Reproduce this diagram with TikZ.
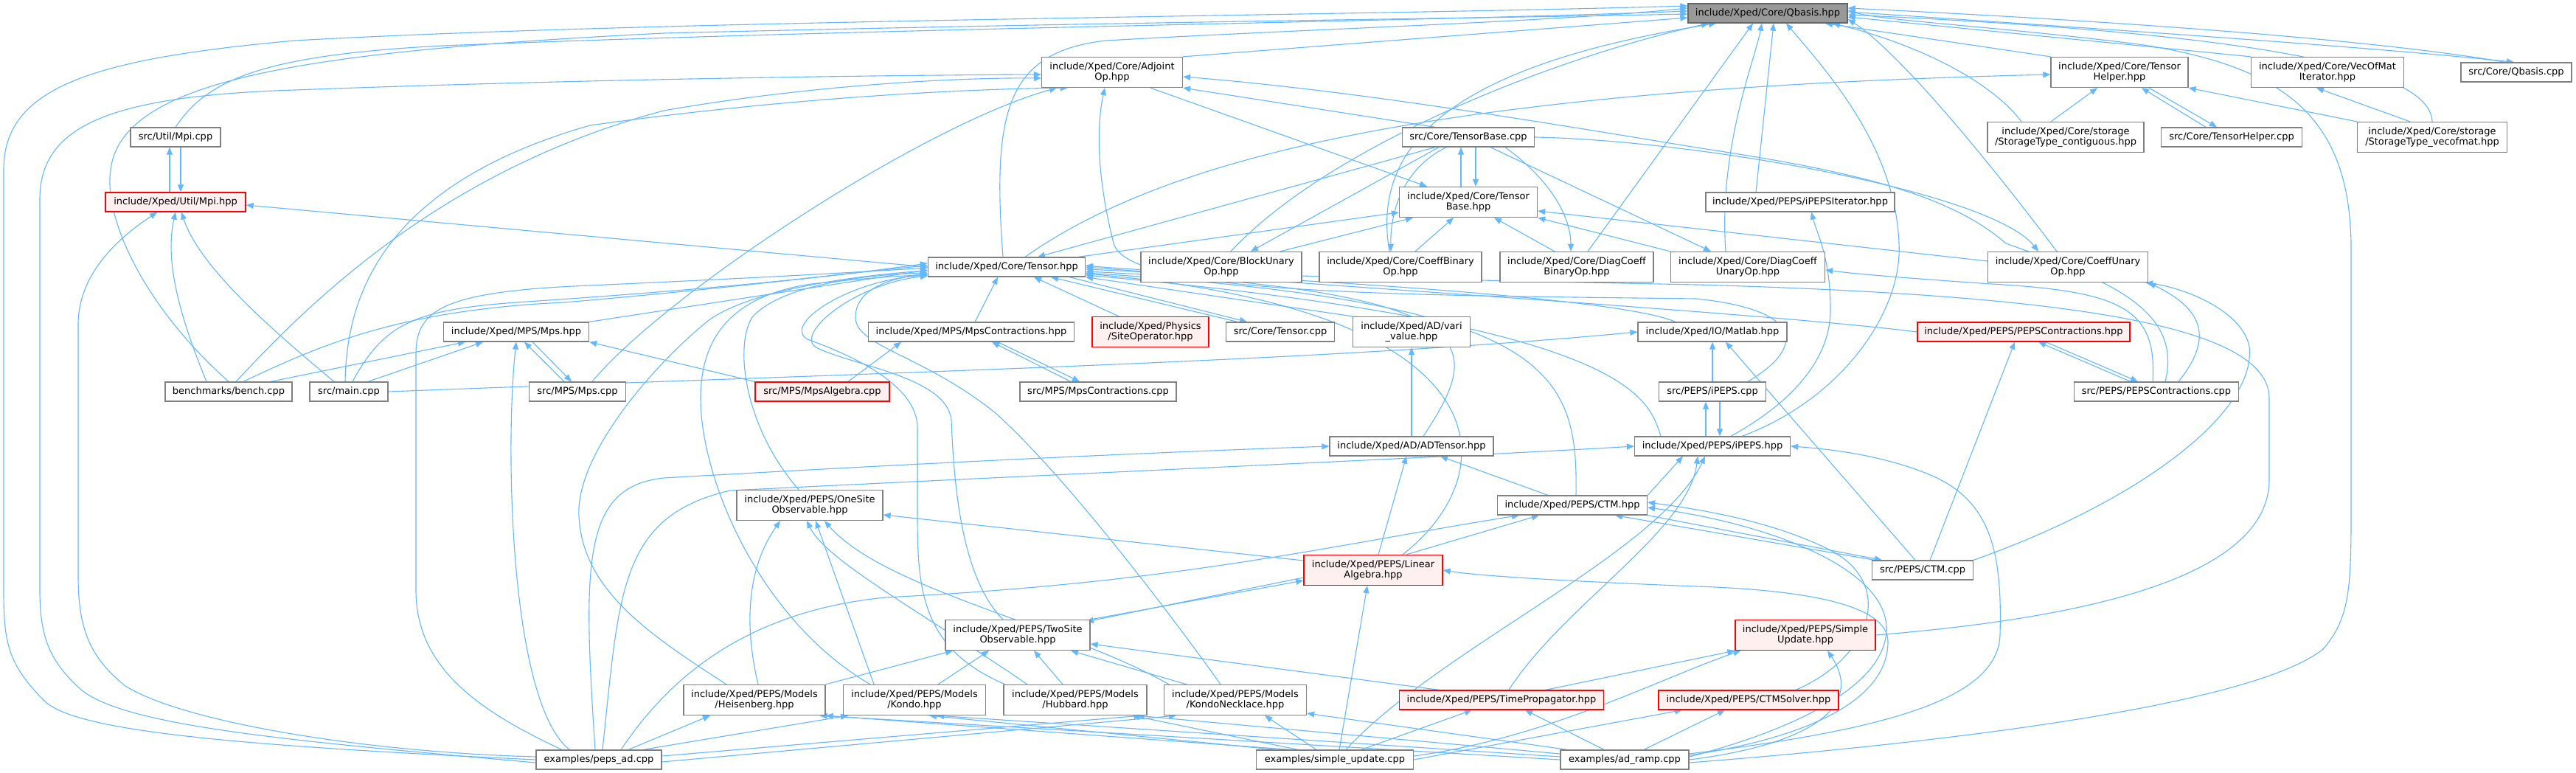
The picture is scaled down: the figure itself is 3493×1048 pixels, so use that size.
\documentclass[tikz,border=0pt]{standalone}
\usepackage{fontspec}
\setmainfont{DejaVu Sans}
\usepackage{xcolor}
\usetikzlibrary{arrows.meta, positioning, backgrounds}
\definecolor{edgeblue}{HTML}{63B8FF}
\definecolor{framegray}{HTML}{808080}
\definecolor{rootfill}{HTML}{999999}
\definecolor{rootframe}{HTML}{666666}
\definecolor{markred}{HTML}{FF0000}
\definecolor{markfill}{HTML}{FFF0F0}

\begin{document}
\begin{tikzpicture}[x=1pt, y=-1pt, >={Triangle[length=10pt,width=8pt]}]
    \tikzstyle{file} = [rectangle, draw=framegray, fill=white, line width=1.3pt, inner xsep=3pt, inner ysep=1pt, minimum height=26pt, align=center, font=\fontsize{13}{14.5}\selectfont]
    \tikzstyle{twoline} = [minimum height=41pt]
    \tikzstyle{rootfile} = [file, fill=rootfill, draw=rootframe]
    \tikzstyle{redfile} = [file, draw=markred, fill=markfill]
    \tikzstyle{inc} = [draw=edgeblue, line width=1.1pt, ->]

    \useasboundingbox (0,0) rectangle (3493,1048);

    % files, row by row
    \node [rootfile, minimum width=216pt] (qbasis) at (2397,18) {include/Xped/Core/Qbasis.hpp};
    \node [file, twoline, minimum width=191pt] (adjoint) at (1508,98) {include/Xped/Core/Adjoint\\Op.hpp};
    \node [file, twoline, minimum width=186pt] (thelper) at (2874,98) {include/Xped/Core/Tensor\\Helper.hpp};
    \node [file, twoline, minimum width=207pt] (vecofmat) at (3156,98) {include/Xped/Core/VecOfMat\\Iterator.hpp};
    \node [file, minimum width=150pt] (qbasiscpp) at (3412,98) {src/Core/Qbasis.cpp};
    \node [file, minimum width=122pt] (mpicpp) at (238,186) {src/Util/Mpi.cpp};
    \node [file, minimum width=179pt] (tbasecpp) at (1991,186) {src/Core/TensorBase.cpp};
    \node [file, twoline, minimum width=212pt] (contig) at (2801,186) {include/Xped/Core/storage\\/StorageType\_contiguous.hpp};
    \node [file, minimum width=191pt] (thelpercpp) at (3026,186) {src/Core/TensorHelper.cpp};
    \node [file, twoline, minimum width=203pt] (vecofmatst) at (3298,186) {include/Xped/Core/storage\\/StorageType\_vecofmat.hpp};
    \node [redfile, minimum width=190pt] (mpihpp) at (238,274) {include/Xped/Util/Mpi.hpp};
    \node [file, twoline, minimum width=187pt] (tbase) at (1991,274) {include/Xped/Core/Tensor\\Base.hpp};
    \node [file, minimum width=256pt] (ipepsit) at (2441,274) {include/Xped/PEPS/iPEPSIterator.hpp};
    \node [file, minimum width=213pt] (tensor) at (1365,362) {include/Xped/Core/Tensor.hpp};
    \node [file, twoline, minimum width=218pt] (blockunary) at (1656,362) {include/Xped/Core/BlockUnary\\Op.hpp};
    \node [file, twoline, minimum width=220pt] (coeffbin) at (1899,362) {include/Xped/Core/CoeffBinary\\Op.hpp};
    \node [file, twoline, minimum width=208pt] (diagbin) at (2138,362) {include/Xped/Core/DiagCoeff\\BinaryOp.hpp};
    \node [file, twoline, minimum width=209pt] (diagun) at (2370,362) {include/Xped/Core/DiagCoeff\\UnaryOp.hpp};
    \node [file, twoline, minimum width=217pt] (coeffun) at (2804,362) {include/Xped/Core/CoeffUnary\\Op.hpp};
    \node [file, minimum width=197pt] (mps) at (700,450) {include/Xped/MPS/Mps.hpp};
    \node [file, minimum width=279pt] (mpscontr) at (1317,450) {include/Xped/MPS/MpsContractions.hpp};
    \node [redfile, twoline, minimum width=158pt] (siteop) at (1560,450) {include/Xped/Physics\\/SiteOperator.hpp};
    \node [file, minimum width=147pt] (tensorcpp) at (1736,450) {src/Core/Tensor.cpp};
    \node [file, twoline, minimum width=159pt] (varivalue) at (1914,450) {include/Xped/AD/vari\\\_value.hpp};
    \node [file, minimum width=202pt] (matlab) at (2322,450) {include/Xped/IO/Matlab.hpp};
    \node [redfile, minimum width=288pt] (pepscontr) at (2744,450) {include/Xped/PEPS/PEPSContractions.hpp};
    \node [file, minimum width=172pt] (bench) at (310,531) {benchmarks/bench.cpp};
    \node [file, minimum width=106pt] (maincpp) at (473,531) {src/main.cpp};
    \node [file, minimum width=131pt] (mpscpp) at (783,531) {src/MPS/Mps.cpp};
    \node [redfile, minimum width=182pt] (mpsalg) at (1115,531) {src/MPS/MpsAlgebra.cpp};
    \node [file, minimum width=212pt] (mpscontrcpp) at (1489,531) {src/MPS/MpsContractions.cpp};
    \node [file, minimum width=145pt] (ipepscpp) at (2322,531) {src/PEPS/iPEPS.cpp};
    \node [file, minimum width=223pt] (pepscontrcpp) at (2924,531) {src/PEPS/PEPSContractions.cpp};
    \node [file, minimum width=222pt] (adtensor) at (1914,605) {include/Xped/AD/ADTensor.hpp};
    \node [file, minimum width=211pt] (ipeps) at (2322,605) {include/Xped/PEPS/iPEPS.hpp};
    \node [file, twoline, minimum width=198pt] (onesite) at (1098,685) {include/Xped/PEPS/OneSite\\Observable.hpp};
    \node [file, minimum width=203pt] (ctm) at (2132,685) {include/Xped/PEPS/CTM.hpp};
    \node [redfile, twoline, minimum width=188pt] (linalg) at (1862,773) {include/Xped/PEPS/Linear\\Algebra.hpp};
    \node [file, minimum width=137pt] (ctmcpp) at (2607,773) {src/PEPS/CTM.cpp};
    \node [file, twoline, minimum width=196pt] (twosite) at (1380,861) {include/Xped/PEPS/TwoSite\\Observable.hpp};
    \node [redfile, twoline, minimum width=190pt] (simpleupd) at (2448,861) {include/Xped/PEPS/Simple\\Update.hpp};
    \node [file, twoline, minimum width=192pt] (heisenberg) at (1023,949) {include/Xped/PEPS/Models\\/Heisenberg.hpp};
    \node [file, twoline, minimum width=193pt] (kondo) at (1240,949) {include/Xped/PEPS/Models\\/Kondo.hpp};
    \node [file, twoline, minimum width=194pt] (hubbard) at (1458,949) {include/Xped/PEPS/Models\\/Hubbard.hpp};
    \node [file, twoline, minimum width=193pt] (kondoneck) at (1675,949) {include/Xped/PEPS/Models\\/KondoNecklace.hpp};
    \node [redfile, minimum width=277pt] (timeprop) at (2036,949) {include/Xped/PEPS/TimePropagator.hpp};
    \node [redfile, minimum width=244pt] (ctmsolver) at (2371,949) {include/Xped/PEPS/CTMSolver.hpp};
    \node [file, minimum width=170pt] (pepsad) at (812,1030) {examples/peps\_ad.cpp};
    \node [file, minimum width=213pt] (simpleupdcpp) at (1810,1030) {examples/simple\_update.cpp};
    \node [file, minimum width=174pt] (adramp) at (2203,1030) {examples/ad\_ramp.cpp};

    \begin{scope}[on background layer]
    \fill [white] (0,0) rectangle (3493,1048);
    % around Qbasis.hpp
    \draw [inc] (adjoint.north east) -- ([yshift=-6pt]qbasis.west);
    \draw [inc] (thelper.north west) -- ([xshift=78pt]qbasis.south);
    \draw [inc] (vecofmat.north west) -- ([yshift=-5pt]qbasis.east);
    \draw [inc] ([xshift=-15pt]qbasiscpp.north) .. controls (3200,50) and (2800,25) .. ([yshift=7pt]qbasis.east);
    \draw [inc] ([yshift=2pt]qbasis.east) .. controls (2800,36) and (3200,62) .. ([xshift=-3pt]qbasiscpp.north);
    \draw [inc] ([xshift=-60pt]contig.north) .. controls (2700,110) and (2600,60) .. ([xshift=88pt]qbasis.south);
    \draw [inc] ([xshift=-20pt]contig.north) -- ([xshift=-30pt]thelper.south);
    \draw [inc] ([xshift=-35pt]thelpercpp.north) -- ([xshift=30pt]thelper.south);
    \draw [inc] ([xshift=40pt]thelper.south) -- ([xshift=-20pt]thelpercpp.north);
    \draw [inc] (vecofmatst.north west) -- (thelper.south east);
    \draw [inc] ([xshift=-30pt]vecofmatst.north) -- ([xshift=-15pt]vecofmat.south);
    \draw [inc] (vecofmatst.north) .. controls (3295,90) and (3050,45) .. ([yshift=-2pt]qbasis.east);
    \draw [inc] (mpicpp.north) .. controls (280,110) and (350,75) .. (600,62) .. controls (1200,38) and (1900,30) .. ([yshift=3pt]qbasis.west);
    \draw [inc] ([xshift=7pt]mpicpp.south) -- ([xshift=7pt]mpihpp.north);
    \draw [inc] ([xshift=-8pt]mpihpp.north) -- ([xshift=-8pt]mpicpp.south);
    \draw [inc] (tensor.west) -- ([yshift=-4pt]mpihpp.east);
    % TensorBase and the ops
    \draw [inc] ([xshift=-45pt]tbasecpp.north) -- (adjoint.south east);
    \draw [inc] ([xshift=10pt]tbasecpp.south) -- ([xshift=10pt]tbase.north);
    \draw [inc] ([xshift=-10pt]tbase.north) -- ([xshift=-10pt]tbasecpp.south);
    \draw [inc] ([xshift=52pt]adjoint.south) -- ([xshift=-56pt]tbase.north);
    \draw [inc] ([xshift=-40pt]tbasecpp.south) -- ([xshift=40pt]blockunary.north);
    \draw [inc] ([xshift=-30pt]tbasecpp.south) .. controls (1900,230) and (1885,290) .. ([xshift=-13pt]coeffbin.north);
    \draw [inc] ([xshift=50pt]tbasecpp.south) .. controls (2110,250) and (2130,300) .. ([xshift=-8pt]diagbin.north);
    \draw [inc] ([xshift=30pt]tbasecpp.south) -- ([xshift=-50pt]diagun.north);
    \draw [inc] (tbasecpp.east) .. controls (2300,190) and (2700,260) .. ([xshift=-40pt]coeffun.north);
    \draw [inc] ([xshift=80pt]blockunary.north) -- ([xshift=-75pt]tbase.south);
    \draw [inc] ([xshift=20pt]coeffbin.north) -- ([xshift=-20pt]tbase.south);
    \draw [inc] ([xshift=-30pt]diagbin.north) -- ([xshift=35pt]tbase.south);
    \draw [inc] (diagun.north west) -- (tbase.south east);
    \draw [inc] ([yshift=8pt]coeffun.west) -- ([yshift=-12pt]tbase.east);
    \draw [inc] ([xshift=13pt]blockunary.north) .. controls (1800,200) and (2100,80) .. ([xshift=-80pt]qbasis.south);
    \draw [inc] ([xshift=-15pt]coeffbin.north) .. controls (1860,200) and (1960,90) .. ([xshift=-70pt]qbasis.south);
    \draw [inc] ([xshift=15pt]diagbin.north) -- ([xshift=-20pt]qbasis.south);
    \draw [inc] ([xshift=-30pt]diagun.north) .. controls (2330,200) and (2380,80) .. ([xshift=-8pt]qbasis.south);
    \draw [inc] ([xshift=-15pt]coeffun.north) .. controls (2660,170) and (2560,60) .. ([yshift=-8pt]qbasis.east);
    % Tensor.hpp
    \draw [inc] ([xshift=-5pt]tensor.north) .. controls (1345,150) and (1365,70) .. (1500,55) .. controls (1800,38) and (2100,30) .. ([yshift=7pt]qbasis.west);
    \draw [inc] ([xshift=25pt]tensor.north) .. controls (1600,200) and (2000,120) .. ([yshift=-3pt]thelper.west);
    \draw [inc] ([xshift=-10pt]tensor.north east) -- ([yshift=-14pt]tbase.west);
    \draw [inc] ([xshift=-45pt]tbasecpp.south) -- ([xshift=42pt]tensor.north);
    \draw [inc] (mps.north east) -- ([yshift=-4pt]tensor.west);
    \draw [inc] ([xshift=5pt]mpscontr.north) -- ([xshift=-12pt]tensor.south);
    \draw [inc] ([xshift=-43pt]siteop.north) -- ([xshift=37pt]tensor.south);
    \draw [inc] ([xshift=-58pt]tensorcpp.north) -- ([xshift=60pt]tensor.south);
    \draw [inc] ([xshift=85pt]tensor.south) -- ([xshift=-45pt]tensorcpp.north);
    \draw [inc] (varivalue.north west) -- (tensor.south east);
    \draw [inc] ([xshift=-50pt]matlab.north) .. controls (2200,405) and (1800,380) .. ([yshift=-3pt]tensor.east);
    \draw [inc] (pepscontr.west) .. controls (2400,425) and (1800,388) .. (tensor.east);
    \draw [inc] (simpleupd.east) .. controls (2800,840) and (3077,790) .. (3077,650) -- (3077,540) .. controls (3077,440) and (2800,400) .. (2300,386) .. controls (1900,378) and (1600,372) .. ([yshift=2pt]tensor.east);
    \draw [inc] ([xshift=16pt]adtensor.north) .. controls (2010,470) and (2030,395) .. ([yshift=-6pt]tensor.east);
    \draw [inc] ([xshift=40pt]linalg.north) .. controls (2045,640) and (2045,420) .. ([yshift=-9pt]tensor.east);
    \draw [inc] ([xshift=5pt]ctm.north) .. controls (2140,500) and (2100,410) .. ([yshift=-8pt]tensor.east);
    \draw [inc] ([xshift=-70pt]ipeps.north) .. controls (2235,540) and (2215,440) .. ([yshift=-11pt]tensor.east);
    \draw [inc] ([xshift=-15pt]onesite.north) .. controls (1010,580) and (995,470) .. (1020,430) .. controls (1060,385) and (1180,372) .. ([yshift=-8pt]tensor.west);
    \draw [inc] ([xshift=-38pt]heisenberg.north) .. controls (880,860) and (790,800) .. (785,700) .. controls (780,620) and (880,500) .. (960,435) .. controls (1020,390) and (1180,372) .. ([yshift=-5pt]tensor.west);
    \draw [inc] ([xshift=-60pt]kondo.north) .. controls (1030,840) and (950,650) .. (950,540) .. controls (950,450) and (1000,400) .. (1100,385) .. controls (1180,376) and (1230,374) .. ([yshift=-10pt]tensor.west);
    \draw [inc] ([xshift=-95pt]hubbard.north) .. controls (1250,880) and (1244,800) .. (1244,700) -- (1244,580) .. controls (1244,520) and (1150,480) .. (1095,460) .. controls (1060,440) and (1150,380) .. ([yshift=-11pt]tensor.west);
    \draw [inc] ([xshift=-20pt]kondoneck.north) .. controls (1600,850) and (1450,650) .. (1350,560) .. controls (1250,480) and (1160,470) .. (1160,430) .. controls (1160,395) and (1200,378) .. ([yshift=-9pt]tensor.west);
    \draw [inc] ([xshift=-20pt]twosite.north) .. controls (1300,780) and (1293,640) .. (1290,570) .. controls (1285,510) and (1150,495) .. (1105,470) .. controls (1080,450) and (1160,385) .. ([yshift=-12pt]tensor.west);
    % benchmarks, main and MPS
    \draw [inc] (bench.north) .. controls (200,420) and (140,300) .. (150,230) .. controls (165,110) and (400,70) .. (900,45) .. controls (1500,30) and (2000,25) .. ([yshift=-1pt]qbasis.west);
    \draw [inc] ([xshift=-30pt]bench.north) .. controls (240,420) and (224,350) .. (mpihpp.south);
    \draw [inc] ([xshift=10pt]bench.north) .. controls (420,410) and (600,230) .. (900,150) .. controls (1100,115) and (1300,105) .. ([yshift=-8pt]adjoint.west);
    \draw [inc] ([xshift=20pt]bench.north) .. controls (430,470) and (540,420) .. (765,410) .. controls (1000,390) and (1150,370) .. ([yshift=2pt]tensor.west);
    \draw [inc] ([xshift=57pt]bench.north) -- ([xshift=-69pt]mps.south);
    \draw [inc] ([xshift=-20pt]maincpp.north) .. controls (360,440) and (270,360) .. ([xshift=8pt]mpihpp.south);
    \draw [inc] ([xshift=-5pt]maincpp.north) .. controls (470,400) and (520,250) .. (800,170) .. controls (1100,128) and (1350,120) .. ([xshift=-60pt]adjoint.south);
    \draw [inc] ([xshift=5pt]maincpp.north) .. controls (520,440) and (560,420) .. (700,410) .. controls (1000,390) and (1150,372) .. ([yshift=5pt]tensor.west);
    \draw [inc] ([xshift=26pt]maincpp.north) -- ([xshift=-45pt]mps.south);
    \draw [inc] (maincpp.east) .. controls (1200,505) and (1800,490) .. (matlab.west);
    \draw [inc] ([xshift=-18pt]mpscpp.north) -- ([xshift=11pt]mps.south);
    \draw [inc] ([xshift=22pt]mps.south) -- ([xshift=-8pt]mpscpp.north);
    \draw [inc] ([xshift=20pt]mpscpp.north) .. controls (900,400) and (1250,170) .. ([xshift=-75pt]adjoint.south);
    \draw [inc] (mpsalg.north west) -- (mps.south east);
    \draw [inc] ([xshift=35pt]mpsalg.north) -- ([xshift=-95pt]mpscontr.south);
    \draw [inc] ([xshift=-37pt]mpscontrcpp.north) -- ([xshift=28pt]mpscontr.south);
    \draw [inc] ([xshift=36pt]mpscontr.south) -- ([xshift=-25pt]mpscontrcpp.north);
    % PEPS
    \draw [inc] (ipepscpp.north) -- (matlab.south);
    \draw [inc] ([xshift=-10pt]ctmcpp.north) -- ([xshift=18pt]matlab.south);
    \draw [inc] ([xshift=-9pt]ipeps.north) -- ([xshift=-9pt]ipepscpp.south);
    \draw [inc] ([xshift=10pt]ipepscpp.south) -- ([xshift=10pt]ipeps.north);
    \draw [inc] ([xshift=48pt]ipepscpp.north) .. controls (2450,470) and (2445,420) .. (2300,405) .. controls (1900,400) and (1530,400) .. (1510,330) .. controls (1490,250) and (1485,180) .. ([xshift=-10pt]adjoint.south);
    \draw [inc] ([xshift=25pt]ipeps.north) .. controls (2440,540) and (2482,480) .. (2482,420) .. controls (2482,350) and (2465,320) .. ([xshift=15pt]ipepsit.south);
    \draw [inc] ([xshift=40pt]ipeps.north) .. controls (2500,540) and (2580,420) .. (2575,330) .. controls (2570,200) and (2480,100) .. ([xshift=25pt]qbasis.south);
    \draw [inc] ([xshift=-60pt]ipepsit.north) -- ([xshift=8pt]qbasis.south);
    \draw [inc] ([xshift=-35pt]pepscontrcpp.north) -- ([xshift=20pt]pepscontr.south);
    \draw [inc] ([xshift=30pt]pepscontr.south) -- ([xshift=-25pt]pepscontrcpp.north);
    \draw [inc] ([xshift=10pt]ctmcpp.north) -- ([xshift=-12pt]pepscontr.south);
    \draw [inc] ([xshift=-5pt]pepscontrcpp.north) .. controls (2925,420) and (2880,395) .. (2700,385) .. controls (2600,378) and (2520,372) .. ([yshift=-4pt]diagun.east);
    \draw [inc] ([xshift=30pt]pepscontrcpp.north) .. controls (3000,460) and (2990,420) .. (coeffun.south east);
    \draw [inc] (ctmcpp.north east) .. controls (2900,680) and (3060,560) .. (3050,470) .. controls (3040,420) and (2960,390) .. ([xshift=-4pt]coeffun.south east);
    \draw [inc] ([xshift=12pt]pepscontrcpp.north) .. controls (2960,420) and (2860,380) .. (2720,330) .. controls (2640,260) and (2500,230) .. (2300,200) .. controls (2000,150) and (1800,120) .. ([yshift=-6pt]adjoint.east);
    \draw [inc] (adtensor.north) -- (varivalue.south);
    \draw [inc] ([xshift=-33pt]ctm.north) -- ([xshift=39pt]adtensor.south);
    \draw [inc] ([xshift=7pt]linalg.north) -- ([xshift=-7pt]adtensor.south);
    \draw [inc] (ctm.north east) -- ([xshift=-40pt]ipeps.south);
    \draw [inc] ([xshift=-65pt]ctmcpp.north) -- ([xshift=58pt]ctm.south);
    \draw [inc] (ctm.south east) -- ([xshift=-55pt]ctmcpp.north);
    \draw [inc] ([xshift=45pt]linalg.north) -- ([xshift=-45pt]ctm.south);
    \draw [inc] ([xshift=64pt]ctmsolver.north) .. controls (2540,890) and (2570,790) .. (2480,745) .. controls (2400,705) and (2300,690) .. ([yshift=4pt]ctm.east);
    % observables and models
    \draw [inc] (twosite.north east) -- ([yshift=-14pt]linalg.west);
    \draw [inc] ([yshift=-10pt]linalg.west) -- ([xshift=-6pt,yshift=-3pt]twosite.north east);
    \draw [inc] ([yshift=13pt]linalg.west) -- ([yshift=-13pt]onesite.east);
    \draw [inc] ([xshift=5pt]heisenberg.north) .. controls (1005,830) and (1020,760) .. ([xshift=-40pt]onesite.south);
    \draw [inc] ([xshift=-55pt]kondo.north) -- ([xshift=8pt]onesite.south);
    \draw [inc] ([xshift=-65pt]hubbard.north) .. controls (1250,830) and (1120,760) .. ([xshift=-4pt]onesite.south);
    \draw [inc] ([xshift=-90pt]kondoneck.north) .. controls (1450,850) and (1200,800) .. ([xshift=20pt]onesite.south);
    \draw [inc] (heisenberg.north east) -- ([xshift=-88pt]twosite.south);
    \draw [inc] ([xshift=32pt]kondo.north) -- ([xshift=-39pt]twosite.south);
    \draw [inc] ([xshift=-17pt]hubbard.north) -- ([xshift=22pt]twosite.south);
    \draw [inc] ([xshift=-66pt]kondoneck.north) -- ([xshift=72pt]twosite.south);
    \draw [inc] ([xshift=-85pt]timeprop.north) -- ([yshift=-12pt]twosite.east);
    \draw [inc] ([xshift=10pt]timeprop.north) .. controls (2120,820) and (2290,720) .. ([xshift=-20pt]ipeps.south);
    \draw [inc] ([xshift=60pt]timeprop.north) -- (simpleupd.south west);
    % examples
    \draw [inc] (pepsad.west) .. controls (300,1010) and (100,990) .. (60,950) .. controls (10,900) and (5,870) .. (5,800) -- (5,230) .. controls (5,120) and (120,80) .. (400,55) .. controls (900,27) and (1800,22) .. ([yshift=10pt]qbasis.west);
    \draw [inc] ([yshift=-4pt]pepsad.west) .. controls (400,1005) and (170,985) .. (110,935) .. controls (65,895) and (54,860) .. (54,800) -- (54,270) .. controls (54,170) and (150,130) .. (400,122) .. controls (800,107) and (1200,102) .. ([yshift=-3pt]adjoint.west);
    \draw [inc] ([yshift=4pt]pepsad.west) .. controls (500,1020) and (250,980) .. (170,930) .. controls (120,890) and (106,850) .. (106,780) -- (106,440) .. controls (106,360) and (180,310) .. ([xshift=-25pt]mpihpp.south);
    \draw [inc] ([xshift=-50pt]pepsad.north) .. controls (640,960) and (564,900) .. (564,800) -- (564,480) .. controls (564,420) and (600,395) .. (800,387) .. controls (1000,378) and (1150,370) .. ([yshift=-1pt]tensor.west);
    \draw [inc] ([xshift=-40pt]pepsad.north) .. controls (690,950) and (685,600) .. (mps.south);
    \draw [inc] ([xshift=-5pt]pepsad.north) .. controls (790,760) and (790,660) .. (900,648) .. controls (1300,625) and (1600,612) .. (adtensor.west);
    \draw [inc] ([xshift=5pt]pepsad.north) .. controls (840,800) and (840,700) .. (990,665) .. controls (1500,640) and (2000,618) .. (ipeps.west);
    \draw [inc] ([xshift=30pt]pepsad.north) .. controls (900,930) and (1000,830) .. (1200,810) .. controls (1600,790) and (1800,740) .. ([xshift=-72pt]ctm.south);
    \draw [inc] ([xshift=40pt]pepsad.north) -- ([xshift=-60pt]heisenberg.south);
    \draw [inc] ([xshift=60pt]pepsad.north) -- ([xshift=-90pt]kondo.south);
    \draw [inc] ([yshift=5pt]pepsad.east) -- ([xshift=-8pt]hubbard.south east);
    \draw [inc] ([yshift=-3pt]pepsad.east) -- ([xshift=-80pt]kondoneck.south);
    \draw [inc] ([xshift=6pt]simpleupdcpp.north) -- ([xshift=-8pt]linalg.south);
    \draw [inc] ([xshift=15pt]simpleupdcpp.north) .. controls (1950,880) and (2250,750) .. ([xshift=-10pt]ipeps.south);
    \draw [inc] ([xshift=36pt]simpleupdcpp.north) -- ([xshift=-40pt]timeprop.south);
    \draw [inc] (simpleupdcpp.east) -- ([xshift=-90pt]ctmsolver.south);
    \draw [inc] ([yshift=5pt]simpleupdcpp.east) .. controls (2100,1000) and (2250,920) .. ([xshift=8pt]simpleupd.south west);
    \draw [inc] ([xshift=-60pt]simpleupdcpp.north) -- (heisenberg.south east);
    \draw [inc] ([xshift=-80pt]simpleupdcpp.north) -- ([xshift=20pt]kondo.south);
    \draw [inc] ([xshift=-50pt]simpleupdcpp.north) -- ([xshift=-20pt]hubbard.south east);
    \draw [inc] ([xshift=-25pt]simpleupdcpp.north) -- ([xshift=40pt]kondoneck.south);
    \draw [inc] (adramp.west) -- ([xshift=-8pt]heisenberg.south east);
    \draw [inc] ([yshift=4pt]adramp.west) -- ([xshift=30pt]kondo.south);
    \draw [inc] ([yshift=8pt]adramp.west) -- ([xshift=-14pt]hubbard.south east);
    \draw [inc] ([xshift=10pt]adramp.north west) -- ([yshift=3pt]kondoneck.south east);
    \draw [inc] ([xshift=-28pt]adramp.north) -- ([xshift=32pt]timeprop.south);
    \draw [inc] ([xshift=26pt]adramp.north) -- ([xshift=-32pt]ctmsolver.south);
    \draw [inc] (adramp.east) .. controls (2450,1010) and (2530,960) .. ([xshift=30pt]simpleupd.south);
    \draw [inc] ([yshift=4pt]adramp.east) .. controls (2430,990) and (2560,930) .. (2558,850) .. controls (2555,770) and (2400,710) .. ([yshift=-3pt]ctm.east);
    \draw [inc] ([yshift=6pt]adramp.east) .. controls (2450,1000) and (2560,950) .. (2560,870) .. controls (2560,820) and (2450,800) .. (2300,795) .. controls (2100,787) and (2000,780) .. (linalg.east);
    \draw [inc] ([yshift=8pt]adramp.east) .. controls (2550,990) and (2710,950) .. (2712,860) .. controls (2715,750) and (2700,680) .. (2620,645) .. controls (2550,615) and (2470,608) .. (ipeps.east);
    \draw [inc] ([yshift=-4pt]adramp.east) .. controls (2600,1010) and (3050,960) .. (3150,880) .. controls (3185,840) and (3188,800) .. (3188,700) -- (3188,330) .. controls (3185,160) and (3100,90) .. (2900,60) .. controls (2700,35) and (2550,28) .. ([yshift=4pt]qbasis.east);
    \end{scope}
\end{tikzpicture}
\end{document}
